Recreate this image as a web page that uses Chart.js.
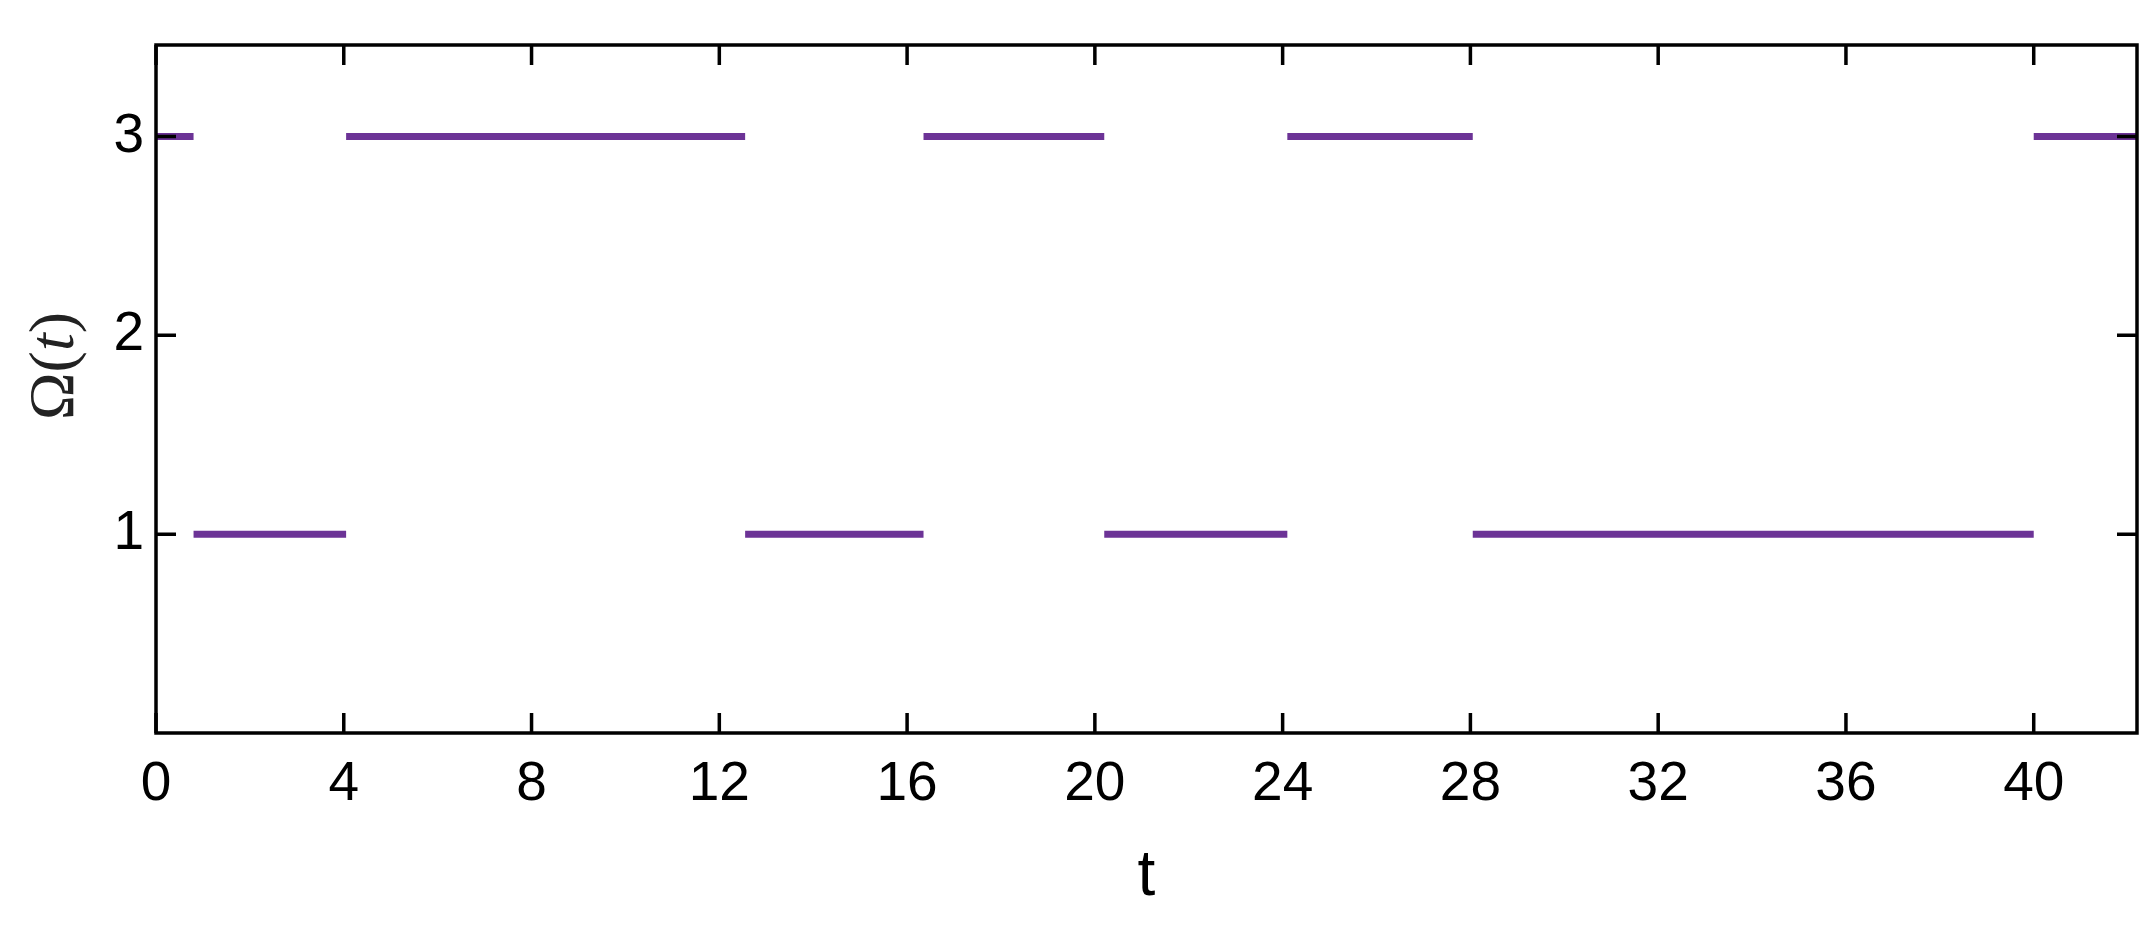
<!DOCTYPE html>
<html>
<head>
<meta charset="utf-8">
<script src="https://cdn.jsdelivr.net/npm/chart.js@4"></script>
<style>
  html, body { margin: 0; padding: 0; background: #fff; }
  canvas { display: block; }
</style>
</head>
<body>
<canvas id="omegaChart" width="2156" height="926"></canvas>
<script>
// switching instants of the piecewise-constant signal and the level held in each interval
const switchTimes = [0, 0.8, 4.05, 12.55, 16.35, 20.2, 24.1, 28.05, 40.0, 42.2];
const levels = [3, 1, 3, 1, 3, 1, 3, 1, 3];
const xTickVals = [0, 4, 8, 12, 16, 20, 24, 28, 32, 36, 40];
const yTickVals = [1, 2, 3];
// y label pieces: [text, italic?]
const yLabelParts = [['Ω(', false], ['t', true], [')', false]];

// one point pair per interval, null between them so no vertical jumps are drawn
function buildSteps(times, vals) {
    const pts = [];
    for (let i = 0; i < vals.length; i++) {
        pts.push({ x: times[i], y: vals[i] });
        pts.push({ x: times[i + 1], y: vals[i] });
        if (i < vals.length - 1) pts.push({ x: times[i + 1], y: null });
    }
    return pts;
}

// box frame + inward ticks on all four sides
const frameTicks = {
    id: 'frameTicks',
    afterDatasetsDraw(chart) {
        const { ctx, chartArea: a, scales } = chart;
        const len = 20;
        ctx.save();
        ctx.strokeStyle = '#000';
        ctx.lineWidth = 3.5;
        ctx.beginPath();
        scales.x.ticks.forEach(t => {
            const px = scales.x.getPixelForValue(t.value);
            ctx.moveTo(px, a.bottom); ctx.lineTo(px, a.bottom - len);
            ctx.moveTo(px, a.top); ctx.lineTo(px, a.top + len);
        });
        scales.y.ticks.forEach(t => {
            const py = scales.y.getPixelForValue(t.value);
            ctx.moveTo(a.left, py); ctx.lineTo(a.left + len, py);
            ctx.moveTo(a.right, py); ctx.lineTo(a.right - len, py);
        });
        ctx.stroke();
        ctx.strokeRect(a.left, a.top, a.right - a.left, a.bottom - a.top);
        ctx.restore();
    }
};

// rotated y label with upright Ω and italic t
const yLabel = {
    id: 'yLabel',
    afterDraw(chart) {
        const ctx = chart.ctx;
        const fonts = yLabelParts.map(p => (p[1] ? 'italic ' : '') + '64px "Liberation Serif"');
        ctx.save();
        ctx.fillStyle = '#222';
        ctx.textBaseline = 'middle';
        ctx.textAlign = 'left';
        let total = 0;
        const widths = yLabelParts.map((p, i) => { ctx.font = fonts[i]; const w = ctx.measureText(p[0]).width; total += w; return w; });
        ctx.translate(56, 366);
        ctx.rotate(-Math.PI / 2);
        let x = -total / 2;
        yLabelParts.forEach((p, i) => { ctx.font = fonts[i]; ctx.fillText(p[0], x, 0); x += widths[i]; });
        ctx.restore();
    }
};

new Chart(document.getElementById('omegaChart'), {
    type: 'line',
    data: {
        datasets: [{
            data: buildSteps(switchTimes, levels),
            borderColor: '#6c3396',
            borderWidth: 7,
            borderCapStyle: 'butt',
            pointRadius: 0,
            spanGaps: false,
            tension: 0
        }]
    },
    options: {
        responsive: false,
        animation: false,
        layout: { padding: { top: 32, right: 19, left: 0, bottom: 0 } },
        plugins: { legend: { display: false }, tooltip: { enabled: false } },
        scales: {
            x: {
                type: 'linear',
                min: 0, max: 42.2,
                afterBuildTicks: s => { s.ticks = xTickVals.map(v => ({ value: v })); },
                afterFit: s => { s.height = 193; },
                grid: { display: false, drawTicks: false },
                border: { display: false },
                ticks: { color: '#000', padding: 19, maxRotation: 0, autoSkip: false,
                         font: { family: 'Liberation Sans', size: 55 } },
                title: { display: true, text: 't', color: '#000',
                         padding: { top: 0, bottom: 10 },
                         font: { family: 'Liberation Sans', size: 64 } }
            },
            y: {
                type: 'linear',
                min: 0, max: 3.46,
                afterBuildTicks: s => { s.ticks = yTickVals.map(v => ({ value: v })); },
                afterFit: s => { s.width = 156; },
                grid: { display: false, drawTicks: false },
                border: { display: false },
                ticks: { color: '#000', padding: 12, autoSkip: false,
                         font: { family: 'Liberation Sans', size: 55 } },
                title: { display: false }
            }
        }
    },
    plugins: [frameTicks, yLabel]
});
</script>
</body>
</html>
